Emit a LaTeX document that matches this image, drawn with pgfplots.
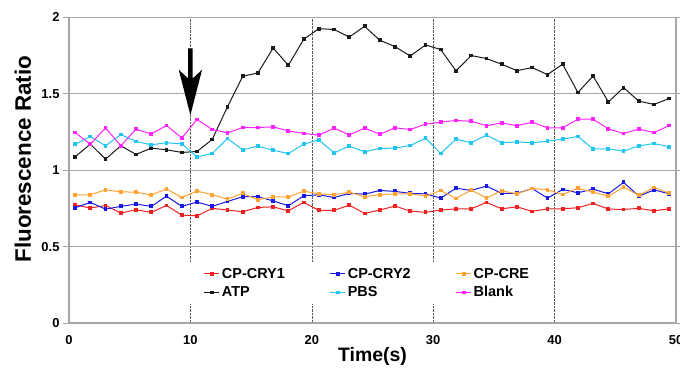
\documentclass[border=0pt]{standalone}
\usepackage{fontspec}
\setmainfont{Liberation Sans}
\usepackage{pgfplots}
\usepackage{pgfplotstable}
\pgfplotsset{compat=1.18}
\definecolor{cry1}{HTML}{EE2222}
\definecolor{cry2}{HTML}{1A1AE6}
\definecolor{cre}{HTML}{FFA333}
\definecolor{atp}{HTML}{1A1A1A}
\definecolor{pbs}{HTML}{22C4F2}
\definecolor{blank}{HTML}{FF22FF}
\definecolor{gridc}{HTML}{A6A6A6}

\pgfplotstableread{
t     cry1  cry2  cre   atp   pbs   blank
0.50  0.773 0.754 0.839 1.087 1.170 1.246
1.76  0.752 0.789 0.839 1.170 1.220 1.170
3.01  0.769 0.745 0.871 1.072 1.159 1.277
4.27  0.719 0.763 0.858 1.159 1.233 1.159
5.52  0.741 0.778 0.856 1.103 1.188 1.268
6.78  0.724 0.763 0.837 1.144 1.166 1.237
8.03  0.769 0.830 0.878 1.133 1.179 1.292
9.29  0.706 0.763 0.821 1.116 1.172 1.211
10.54 0.701 0.791 0.863 1.122 1.087 1.331
11.80 0.750 0.763 0.839 1.201 1.109 1.266
13.05 0.739 0.795 0.810 1.414 1.207 1.244
14.31 0.728 0.826 0.848 1.614 1.133 1.279
15.56 0.756 0.826 0.806 1.636 1.157 1.279
16.82 0.760 0.799 0.826 1.799 1.130 1.283
18.07 0.734 0.767 0.824 1.686 1.109 1.257
19.33 0.789 0.832 0.863 1.856 1.170 1.240
20.58 0.737 0.839 0.845 1.926 1.198 1.229
21.84 0.737 0.821 0.839 1.920 1.113 1.275
23.09 0.771 0.848 0.856 1.871 1.157 1.231
24.35 0.717 0.843 0.826 1.941 1.120 1.275
25.60 0.739 0.867 0.839 1.850 1.142 1.235
26.86 0.765 0.861 0.845 1.808 1.144 1.277
28.11 0.732 0.848 0.845 1.747 1.161 1.266
29.37 0.724 0.845 0.830 1.819 1.209 1.301
30.62 0.739 0.817 0.867 1.789 1.109 1.314
31.88 0.747 0.882 0.815 1.649 1.203 1.325
33.13 0.747 0.867 0.869 1.750 1.179 1.320
34.39 0.789 0.896 0.818 1.730 1.229 1.291
35.64 0.747 0.848 0.865 1.693 1.179 1.309
36.90 0.760 0.848 0.845 1.651 1.185 1.290
38.15 0.730 0.880 0.880 1.671 1.179 1.314
39.41 0.747 0.817 0.871 1.625 1.190 1.277
40.66 0.747 0.874 0.841 1.693 1.203 1.277
41.92 0.754 0.852 0.882 1.508 1.220 1.333
43.17 0.782 0.876 0.856 1.616 1.139 1.333
44.43 0.745 0.845 0.830 1.446 1.139 1.270
45.68 0.743 0.920 0.889 1.540 1.124 1.240
46.94 0.750 0.830 0.835 1.451 1.159 1.268
48.19 0.734 0.871 0.887 1.430 1.174 1.246
49.45 0.747 0.845 0.848 1.469 1.153 1.292
}\data

\begin{document}
\begin{tikzpicture}
\begin{axis}[
  scale only axis, width=607bp, height=305.7bp,
  xmin=0, xmax=50, ymin=0, ymax=2,
  xtick={0,10,20,30,40,50}, xticklabels={0,10,20,30,40,50},
  ytick={0,0.5,1,1.5,2}, yticklabels={0,0.5,1,1.5,2},
  grid=major,
  major x grid style={densely dotted, draw=black!65, line width=0.6bp},
  major y grid style={solid, draw=gridc, line width=1.1bp},
  axis line style={draw=gridc, line width=1.1bp},
  tick align=outside, major tick length=6bp,
  ytick style={draw=gridc, line width=1bp},
  xtick style={draw=none},
  /pgf/number format/assume math mode=true,
  tick label style={font=\bfseries\fontsize{13}{13}\selectfont},
  xticklabel style={yshift=-3bp},
  xlabel={Time(s)}, ylabel={Fluorescence Ratio},
  xlabel style={font=\bfseries\fontsize{19.5}{20}\selectfont, at={(axis description cs:0.5,-0.108)}, anchor=center},
  ylabel style={font=\bfseries\fontsize{22.5}{23}\selectfont, at={(axis description cs:-0.076,0.536)}, anchor=center},
  every axis plot/.append style={line width=1bp, mark=square*, mark size=1.4bp, mark options={solid}},
  legend image code/.code={\draw[mark repeat=2,mark phase=2] plot coordinates {(0bp,0bp)(7.5bp,0bp)(15bp,0bp)};},
  legend columns=3,
  legend cell align=left,
  legend style={at={(0.199,0.060)}, anchor=south west, draw=none, fill=white,
    font=\bfseries\fontsize{14.5}{16}\selectfont,
    inner xsep=14bp, inner ysep=4bp, row sep=3bp,
    /tikz/every even column/.append style={column sep=43bp}},
]
\addplot[color=cry1] table[x=t,y=cry1]{\data};
\addlegendentry{CP-CRY1}
\addplot[color=cry2] table[x=t,y=cry2]{\data};
\addlegendentry{CP-CRY2}
\addplot[color=cre] table[x=t,y=cre]{\data};
\addlegendentry{CP-CRE}
\addplot[color=atp] table[x=t,y=atp]{\data};
\addlegendentry{ATP}
\addplot[color=pbs] table[x=t,y=pbs]{\data};
\addlegendentry{PBS}
\addplot[color=blank] table[x=t,y=blank]{\data};
\addlegendentry{Blank}
\fill[black] (axis cs:9.81,1.797) -- (axis cs:9.81,1.60) -- (axis cs:9.04,1.657) -- (axis cs:10,1.36) -- (axis cs:10.96,1.657) -- (axis cs:10.19,1.60) -- (axis cs:10.19,1.797) -- cycle;
\end{axis}
\pgfresetboundingbox
\path[use as bounding box] (-69bp,-45bp) rectangle (611bp,323bp);
\end{tikzpicture}
\end{document}
